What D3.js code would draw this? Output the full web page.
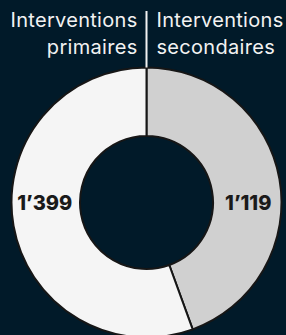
<!DOCTYPE html>
<html>
<head>
<meta charset="utf-8">
<script src="https://cdn.jsdelivr.net/npm/d3@7"></script>
<style>
html,body{margin:0;padding:0;background:#011a29;}
svg{display:block;}
</style>
</head>
<body>
<svg id="c" width="286" height="335"></svg>
<script>
const categories = ["Interventions secondaires", "Interventions primaires"];
const values = [1119, 1399];
const headerLeft = ["Interventions", "primaires"];
const headerRight = ["Interventions", "secondaires"];
const colors = ["#d0d0d0", "#f5f5f5"];

const W = 286, H = 335;
const cx = 146.5, cy = 202.5, rOuter = 135, rInner = 66.5;
const svg = d3.select("#c");
svg.append("rect").attr("width", W).attr("height", H).attr("fill", "#011a29");

const loc = d3.formatLocale({decimal: ".", thousands: "\u2019", grouping: [3], currency: ["", ""]});
const fmt = loc.format(",d");

const pie = d3.pie().sort(null).value(d => d);
const arcs = pie(values);
const arc = d3.arc().innerRadius(rInner).outerRadius(rOuter);

const g = svg.append("g").attr("transform", `translate(${cx},${cy})`);
g.selectAll("path").data(arcs).join("path")
  .attr("d", arc)
  .attr("fill", (d, i) => colors[i])
  .attr("stroke", "#161616")
  .attr("stroke-width", 2)
  .attr("stroke-linejoin", "miter");

// labels placed horizontally in the middle of the ring
const rMid = (rInner + rOuter) / 2;
g.selectAll("text.val").data(arcs).join("text")
  .attr("class", "val")
  .attr("x", (d, i) => i === 0 ? rMid + 1 : -rMid - 1)
  .attr("y", 7)
  .attr("text-anchor", "middle")
  .attr("font-family", "Inter, sans-serif")
  .attr("font-weight", 800)
  .attr("font-size", 20)
  .attr("fill", "#1a1a1a")
  .text(d => fmt(d.data));

// header separator
svg.append("line")
  .attr("x1", cx).attr("x2", cx)
  .attr("y1", 11).attr("y2", cy - rOuter)
  .attr("stroke", "#f2f2f2").attr("stroke-width", 2);

const hdr = svg.append("g")
  .attr("font-family", "Inter, sans-serif")
  .attr("font-size", 20)
  .attr("font-weight", 400)
  .attr("letter-spacing", 0.3)
  .attr("fill", "#f2f2f2");
headerLeft.forEach((t, i) => {
  hdr.append("text").attr("x", cx - 9).attr("y", 27 + i * 27)
    .attr("text-anchor", "end").text(t);
});
headerRight.forEach((t, i) => {
  hdr.append("text").attr("x", cx + 10).attr("y", 27 + i * 27)
    .attr("text-anchor", "start").text(t);
});
</script>
</body>
</html>
